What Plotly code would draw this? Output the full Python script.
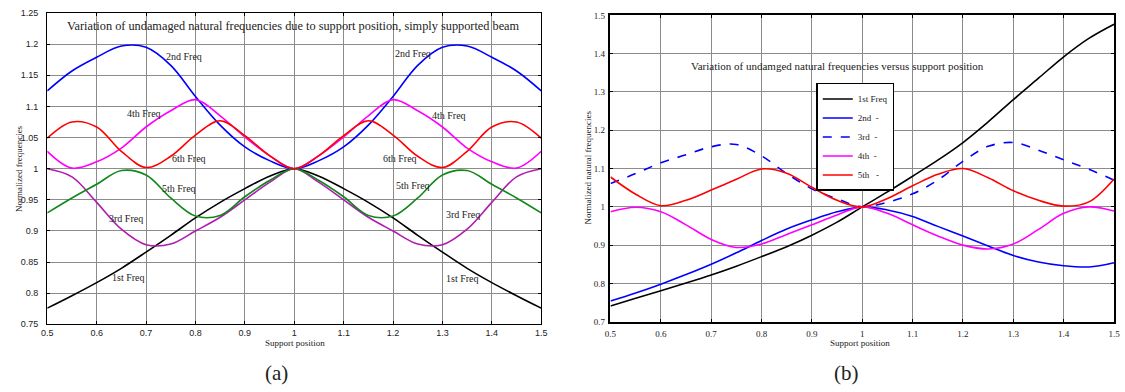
import plotly.graph_objects as go

# ---------------- data ----------------
x_pos = [0.5, 0.55, 0.6, 0.65, 0.7, 0.75, 0.8, 0.85, 0.9, 0.95, 1.0,
         1.05, 1.1, 1.15, 1.2, 1.25, 1.3, 1.35, 1.4, 1.45, 1.5]

# panel (a): simply supported beam
a_f1 = [0.776, 0.796, 0.817, 0.840, 0.866, 0.893, 0.921, 0.946, 0.968, 0.988, 1.0,
        0.988, 0.968, 0.946, 0.921, 0.893, 0.866, 0.840, 0.817, 0.796, 0.776]
a_f2 = [1.125, 1.157, 1.179, 1.197, 1.195, 1.166, 1.116, 1.070, 1.035, 1.013, 1.0,
        1.013, 1.035, 1.070, 1.116, 1.166, 1.195, 1.197, 1.179, 1.157, 1.125]
a_f3 = [1.0, 0.987, 0.946, 0.903, 0.878, 0.879, 0.900, 0.922, 0.950, 0.978, 1.0,
        0.978, 0.950, 0.922, 0.900, 0.879, 0.878, 0.903, 0.946, 0.987, 1.0]
a_f4 = [1.028, 1.001, 1.011, 1.033, 1.067, 1.093, 1.111, 1.085, 1.051, 1.021, 1.0,
        1.021, 1.051, 1.085, 1.111, 1.093, 1.067, 1.033, 1.011, 1.001, 1.028]
a_f5 = [0.929, 0.953, 0.975, 0.997, 0.990, 0.953, 0.924, 0.925, 0.955, 0.981, 1.0,
        0.981, 0.955, 0.925, 0.924, 0.953, 0.990, 0.997, 0.975, 0.953, 0.929]
a_f6 = [1.049, 1.075, 1.067, 1.028, 1.002, 1.020, 1.054, 1.077, 1.053, 1.021, 1.0,
        1.021, 1.053, 1.077, 1.054, 1.020, 1.002, 1.028, 1.067, 1.075, 1.049]

# panel (b)
b_f1 = [0.741, 0.761, 0.781, 0.801, 0.822, 0.845, 0.870, 0.896, 0.926, 0.960, 1.0,
        1.039, 1.080, 1.122, 1.168, 1.222, 1.280, 1.336, 1.392, 1.440, 1.477]
b_f2 = [0.754, 0.775, 0.798, 0.823, 0.850, 0.880, 0.912, 0.942, 0.966, 0.987, 1.0,
        0.992, 0.975, 0.949, 0.924, 0.898, 0.873, 0.856, 0.846, 0.843, 0.854]
b_f3 = [1.061, 1.087, 1.115, 1.136, 1.157, 1.163, 1.133, 1.087, 1.047, 1.021, 1.0,
        1.012, 1.034, 1.070, 1.119, 1.158, 1.168, 1.148, 1.123, 1.098, 1.070]
b_f4 = [0.987, 0.999, 0.987, 0.953, 0.915, 0.894, 0.903, 0.928, 0.953, 0.979, 1.0,
        0.983, 0.953, 0.924, 0.900, 0.890, 0.903, 0.941, 0.983, 1.0, 0.989]
b_f5 = [1.078, 1.033, 1.003, 1.017, 1.044, 1.072, 1.099, 1.088, 1.051, 1.017, 1.0,
        1.022, 1.055, 1.085, 1.100, 1.076, 1.042, 1.017, 1.002, 1.013, 1.073]

a_labels = ["1st Freq", "2nd Freq", "3rd Freq", "4th Freq", "5th Freq", "6th Freq"]
a_label_x = [[0.665, 1.341], [0.777, 1.24], [0.659, 1.342], [0.695, 1.314], [0.767, 1.241], [0.786, 1.215]]
a_label_y = [[0.825, 0.823], [1.181, 1.185], [0.920, 0.926], [1.089, 1.085], [0.969, 0.973], [1.016, 1.016]]

b_names = ["1st Freq", "2nd\u00a0\u00a0-", "3rd\u00a0\u00a0-", "4th\u00a0\u00a0-", "5th\u00a0\u00a0\u00a0-"]

a_ticks_x = [0.5, 0.6, 0.7, 0.8, 0.9, 1.0, 1.1, 1.2, 1.3, 1.4, 1.5]
a_ticks_x_text = ["0.5", "0.6", "0.7", "0.8", "0.9", "1", "1.1", "1.2", "1.3", "1.4", "1.5"]
a_ticks_y = [0.75, 0.8, 0.85, 0.9, 0.95, 1.0, 1.05, 1.1, 1.15, 1.2, 1.25]
a_ticks_y_text = ["0.75", "0.8", "0.85", "0.9", "0.95", "1", "1.05", "1.1", "1.15", "1.2", "1.25"]
b_ticks_y = [0.7, 0.8, 0.9, 1.0, 1.1, 1.2, 1.3, 1.4, 1.5]
b_ticks_y_text = ["0.7", "0.8", "0.9", "1", "1.1", "1.2", "1.3", "1.4", "1.5"]

# ---------------- figure ----------------
SERIF = "Liberation Serif, Times New Roman, serif"
SANS = "Liberation Sans, Arial, sans-serif"

fig = go.Figure()

a_series = [a_f1, a_f2, a_f3, a_f4, a_f5, a_f6]
a_colors = ["#000000", "#0000ff", "#b01cb0", "#ff00ff", "#10881a", "#ff0000"]
for ys, c, n in zip(a_series, a_colors, a_labels):
    fig.add_trace(go.Scatter(x=x_pos, y=ys, mode="lines", name=n, showlegend=False,
                             line=dict(color=c, width=1.6, shape="spline", smoothing=1.0),
                             xaxis="x", yaxis="y"))

b_series = [b_f1, b_f2, b_f3, b_f4, b_f5]
b_colors = ["#000000", "#0000ff", "#0000ff", "#ff00ff", "#ff0000"]
b_dash = ["solid", "solid", "dash", "solid", "solid"]
for ys, c, d, n in zip(b_series, b_colors, b_dash, b_names):
    fig.add_trace(go.Scatter(x=x_pos, y=ys, mode="lines", name=n, showlegend=True,
                             line=dict(color=c, width=1.6, dash=d, shape="spline", smoothing=1.0),
                             xaxis="x2", yaxis="y2"))

annotations = []
for txt, xs, ys in zip(a_labels, a_label_x, a_label_y):
    for xv, yv in zip(xs, ys):
        annotations.append(dict(x=xv, y=yv, xref="x", yref="y", text=txt, showarrow=False,
                                xanchor="center", yanchor="middle",
                                font=dict(family=SERIF, size=10, color="#222")))


def paper_note(px, py, text, size, angle=0):
    return dict(x=px / 1125, y=1 - py / 392, xref="paper", yref="paper", showarrow=False,
                xanchor="center", yanchor="middle", textangle=angle, text=text,
                font=dict(family=SERIF, size=size, color="#222"))


annotations += [
    paper_note(290.5, 21.7, "Variation of undamaged natural frequencies due to support position, simply supported beam", 12.3),
    paper_note(840.3, 63, "Variation of undamged natural frequencies versus support position", 11),
    paper_note(12.5, 168, "Normalized frequencies", 9, -90),
    paper_note(588, 167, "Normalized natural frequencies", 9, -90),
    paper_note(292, 346.5, "Support position", 9),
    paper_note(863, 347, "Support position", 9),
    paper_note(273, 378, "(a)", 21),
    paper_note(850, 378, "(b)", 21),
]

axis_common = dict(showgrid=True, gridcolor="#8c8c8c", gridwidth=1, zeroline=False,
                   showline=True, linecolor="#000", mirror="ticks", ticks="inside",
                   ticklen=3, tickcolor="#000")

fig.update_layout(
    width=1125, height=392,
    margin=dict(l=0, r=0, t=0, b=0),
    paper_bgcolor="white", plot_bgcolor="white",
    xaxis=dict(domain=[41.7 / 1125, 541 / 1125], range=[0.5, 1.5], anchor="y",
               tickvals=a_ticks_x, ticktext=a_ticks_x_text, linewidth=1.2,
               tickfont=dict(family=SANS, size=9, color="#222"), **axis_common),
    yaxis=dict(domain=[1 - 327.7 / 392, 1 - 8.3 / 392], range=[0.75, 1.25], anchor="x",
               tickvals=a_ticks_y, ticktext=a_ticks_y_text, linewidth=1.2, ticklabelstandoff=6,
               tickfont=dict(family=SANS, size=9, color="#222"), **axis_common),
    xaxis2=dict(domain=[611 / 1125, 1120 / 1125], range=[0.5, 1.5], anchor="y2",
                tickvals=a_ticks_x, ticktext=a_ticks_x_text, linewidth=1.6, ticklabelstandoff=3,
                tickfont=dict(family=SERIF, size=9, color="#222"), **axis_common),
    yaxis2=dict(domain=[1 - 325 / 392, 1 - 10.7 / 392], range=[0.7, 1.5], anchor="x2",
                tickvals=b_ticks_y, ticktext=b_ticks_y_text, linewidth=1.6, ticklabelstandoff=2,
                tickfont=dict(family=SERIF, size=9, color="#222"), **axis_common),
    legend=dict(x=819 / 1125, y=1 - 80 / 392, xanchor="left", yanchor="top",
                bgcolor="white", bordercolor="#000", borderwidth=1.5,
                font=dict(family=SERIF, size=9, color="#222"), tracegroupgap=0,
                itemwidth=30),
    annotations=annotations,
    showlegend=True,
)

fig.write_html("out.html")
